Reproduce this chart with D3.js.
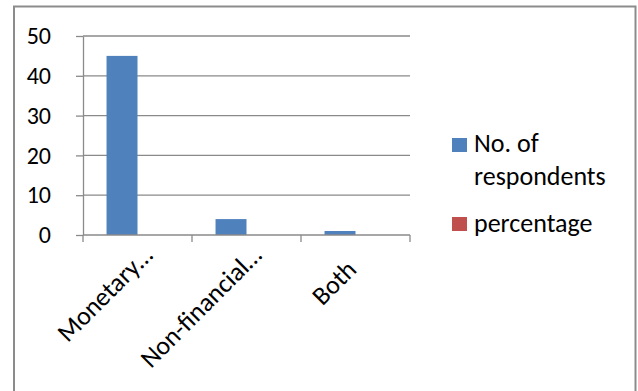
<!DOCTYPE html>
<html><head><meta charset="utf-8">
<script src="https://cdn.jsdelivr.net/npm/d3@7"></script>
<style>body{margin:0;background:#fff;}svg{display:block;font-family:Carlito,Calibri,Lato,sans-serif;}</style>
</head><body>
<svg id="c" width="638" height="391"></svg>
<script>
const categories = ["Monetary…", "Non-financial…", "Both"];
const seriesNames = ["No. of respondents", "percentage"];
const respondents = [45, 4, 1];
const percentage = [0, 0, 0];
const yTicks = [0, 10, 20, 30, 40, 50];
const colors = ["#4F81BD", "#C0504D"];

const svg = d3.select("#c");
// outer frame
svg.append("rect").attr("x", 14).attr("y", 6.5).attr("width", 621.5).attr("height", 400)
  .attr("fill", "#fff").attr("stroke", "#8c8c8c").attr("stroke-width", 2);

const L = 83, R = 410, T = 36, B = 235;
const x = d3.scaleBand().domain(categories).range([L, R]);
const xs = d3.scaleBand().domain(seriesNames).range([0, x.bandwidth()]).paddingInner(0).paddingOuter(0.76);
const y = d3.scaleLinear().domain([0, 50]).range([B, T]);

// gridlines
svg.append("g").selectAll("line").data(yTicks.filter(d => d > 0)).join("line")
  .attr("x1", L).attr("x2", R).attr("y1", d => y(d)).attr("y2", d => y(d))
  .attr("stroke", "#8a8a8a").attr("stroke-width", 1.3);

// bars
const data = [respondents, percentage];
data.forEach((vals, si) => {
  svg.append("g").selectAll("rect").data(vals).join("rect")
    .attr("x", (d, i) => x(categories[i]) + xs(seriesNames[si]))
    .attr("width", xs.bandwidth())
    .attr("y", d => y(d)).attr("height", d => B - y(d))
    .attr("fill", colors[si]);
});

// y axis
const yAxis = svg.append("g").attr("transform", `translate(${L},0)`)
  .call(d3.axisLeft(y).tickValues(yTicks).tickSize(7).tickPadding(25).tickSizeOuter(0));
yAxis.select(".domain").attr("stroke", "#8a8a8a").attr("stroke-width", 1.3);
yAxis.selectAll(".tick line").attr("stroke", "#8a8a8a").attr("stroke-width", 1.3);
yAxis.selectAll("text").attr("font-size", 24).attr("fill", "#000").attr("font-family", "Carlito,Calibri,Lato,sans-serif");

// x axis
const xAxis = svg.append("g").attr("transform", `translate(0,${B})`);
xAxis.append("line").attr("x1", L).attr("x2", R).attr("stroke", "#8a8a8a").attr("stroke-width", 1.3);
const edges = categories.map(c => x(c)).concat([R]);
xAxis.selectAll(".tk").data(edges).join("line")
  .attr("x1", d => d).attr("x2", d => d).attr("y1", 0).attr("y2", 7)
  .attr("stroke", "#8a8a8a").attr("stroke-width", 1.3);
xAxis.selectAll("text").data(categories).join("text")
  .attr("transform", d => `translate(${x(d) + x.bandwidth() / 2 + 2.5},${36}) rotate(-45)`)
  .attr("text-anchor", "end")
  .attr("dx", d => d.endsWith("…") ? 20 : 0)
  .attr("font-size", 26).attr("fill", "#000").text(d => d);

// legend
const lg = svg.append("g");
lg.append("rect").attr("x", 452).attr("y", 138).attr("width", 15).attr("height", 14).attr("fill", colors[0]);
lg.append("text").attr("x", 474).attr("y", 152).attr("font-size", 26).text("No. of");
lg.append("text").attr("x", 474).attr("y", 185).attr("font-size", 26).text("respondents");
lg.append("rect").attr("x", 452).attr("y", 217).attr("width", 15).attr("height", 14).attr("fill", colors[1]);
lg.append("text").attr("x", 474).attr("y", 232).attr("font-size", 26).text("percentage");
</script>
</body></html>
